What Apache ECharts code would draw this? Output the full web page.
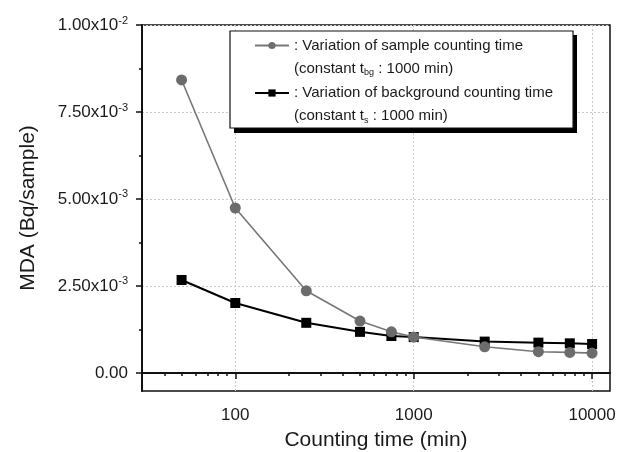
<!DOCTYPE html>
<html>
<head>
<meta charset="utf-8">
<script src="https://cdn.jsdelivr.net/npm/echarts@6/dist/echarts.min.js"></script>
<style>
  html, body { margin: 0; padding: 0; background: #fff; }
  #chart { width: 618px; height: 452px; }
</style>
</head>
<body>
<div id="chart"></div>
<script>
// counting time (min)
const times = [50, 100, 250, 500, 750, 1000, 2500, 5000, 7500, 10000];
// MDA (Bq/sample), sample counting time varied (t_bg = 1000 min)
const sampleMda = [0.00842, 0.00474, 0.00236, 0.00149, 0.00118, 0.00103, 0.00075, 0.00061, 0.00059, 0.00057];
// MDA (Bq/sample), background counting time varied (t_s = 1000 min)
const bgMda = [0.00267, 0.00201, 0.00144, 0.00118, 0.00106, 0.00103, 0.00090, 0.00087, 0.00085, 0.00083];

const xMajor = [100, 1000, 10000];
const xMinor = [40, 50, 60, 70, 80, 90, 200, 300, 400, 500, 600, 700, 800, 900,
  2000, 3000, 4000, 5000, 6000, 7000, 8000, 9000];
const yMajor = [0, 0.0025, 0.005, 0.0075, 0.01];
const yMinor = [0.00125, 0.00375, 0.00625, 0.00875];

const legendText = {
  s: '{a|: Variation of sample counting time}',
  s2: '{a|(constant t}{s|bg}{a| : 1000 min)}',
  b: '{a|: Variation of background counting time}',
  b2: '{a|(constant t}{s|s}{a| : 1000 min)}'
};

const pairs = (ys) => times.map((t, i) => [t, ys[i]]);

function sci(v) {
  if (Math.abs(v) < 1e-12) return '{m|0.00}';
  const e = Math.floor(Math.log10(v) + 1e-9);
  const m = v / Math.pow(10, e);
  return '{m|' + m.toFixed(2) + 'x10}{e|' + e + '}';
}

const chart = echarts.init(document.getElementById('chart'));
const font = 'Liberation Sans, Arial, sans-serif';
const textColor = '#1a1a1a';

const xBase = { type: 'log', logBase: 10, min: 30, max: 12600, position: 'bottom' };
const yBase = { type: 'value', min: -0.00052, max: 0.01, position: 'left' };
const grey = { color: '#c8c8c8', type: [2, 2], width: 1 };

chart.setOption({
  animation: false,
  backgroundColor: '#fff',
  textStyle: { fontFamily: font },
  grid: {
    left: 142, right: 8, top: 25, bottom: 61,
    outerBoundsMode: 'none',
    show: true, borderColor: '#111', borderWidth: 1.5, backgroundColor: 'transparent'
  },
  // drop shadow of the legend box
  graphic: [{
    type: 'rect',
    left: 234, top: 35,
    shape: { width: 343, height: 98 },
    style: { fill: '#000' },
    z: 3
  }],
  legend: {
    orient: 'vertical',
    left: 230,
    top: 31,
    padding: [7, 20, 3, 24],
    itemWidth: 34,
    itemHeight: 9,
    itemGap: 8,
    backgroundColor: '#fff',
    borderColor: '#111',
    borderWidth: 1.2,
    z: 4,
    selectedMode: false,
    data: ['s', 's2', 'b', 'b2'],
    formatter: (n) => legendText[n],
    textStyle: {
      color: textColor,
      rich: {
        a: { fontSize: 15, lineHeight: 18, fontFamily: font, color: textColor },
        s: { fontSize: 9, lineHeight: 10, verticalAlign: 'bottom', fontFamily: font, color: textColor }
      }
    }
  },
  xAxis: [
    Object.assign({}, xBase, {
      name: 'Counting time (min)',
      nameLocation: 'middle',
      nameGap: 39,
      nameTextStyle: { fontSize: 21, color: textColor, fontFamily: font },
      axisLine: { show: true, lineStyle: { color: '#111', width: 2 } },
      axisTick: { show: true, inside: false, length: 6, customValues: xMajor, lineStyle: { color: '#111', width: 1.5 } },
      axisLabel: {
        customValues: xMajor, margin: 16, fontSize: 17, color: textColor, fontFamily: font,
        formatter: (v) => String(Math.round(v))
      },
      splitLine: { show: true, lineStyle: grey }
    }),
    Object.assign({}, xBase, {
      axisLine: { show: false },
      axisTick: { show: true, inside: false, length: 3, customValues: xMinor, lineStyle: { color: '#111', width: 1.5 } },
      axisLabel: { show: false },
      splitLine: { show: false }
    })
  ],
  yAxis: [
    Object.assign({}, yBase, {
      name: 'MDA (Bq/sample)',
      nameLocation: 'middle',
      nameGap: 103,
      nameTextStyle: { fontSize: 21, color: textColor, fontFamily: font },
      axisLine: { show: true, lineStyle: { color: '#111', width: 2 } },
      axisTick: { show: true, inside: false, length: 6, customValues: yMajor, lineStyle: { color: '#111', width: 1.5 } },
      axisLabel: {
        customValues: yMajor, margin: 14, color: textColor,
        formatter: sci,
        rich: {
          m: { fontSize: 17, lineHeight: 20, fontFamily: font, color: textColor },
          e: { fontSize: 11, lineHeight: 11, verticalAlign: 'top', fontFamily: font, color: textColor }
        }
      },
      splitLine: { show: true, lineStyle: grey }
    }),
    Object.assign({}, yBase, {
      axisLine: { show: false },
      axisTick: { show: true, inside: false, length: 3, customValues: yMinor, lineStyle: { color: '#111', width: 1.5 } },
      axisLabel: { show: false },
      splitLine: { show: false }
    })
  ],
  series: [
    {
      name: 's',
      type: 'line',
      data: pairs(sampleMda),
      symbol: 'circle',
      symbolSize: 11,
      z: 3,
      lineStyle: { color: '#777', width: 1.6 },
      itemStyle: { color: '#6c6c6c' }
    },
    {
      name: 'b',
      type: 'line',
      data: pairs(bgMda),
      symbol: 'rect',
      symbolSize: 10,
      z: 2,
      lineStyle: { color: '#000', width: 2 },
      itemStyle: { color: '#000' }
    },
    {
      name: 's2', type: 'line', data: [], symbol: 'none',
      lineStyle: { width: 0, opacity: 0 }, itemStyle: { opacity: 0 }
    },
    {
      name: 'b2', type: 'line', data: [], symbol: 'none',
      lineStyle: { width: 0, opacity: 0 }, itemStyle: { opacity: 0 }
    }
  ]
});
</script>
</body>
</html>
